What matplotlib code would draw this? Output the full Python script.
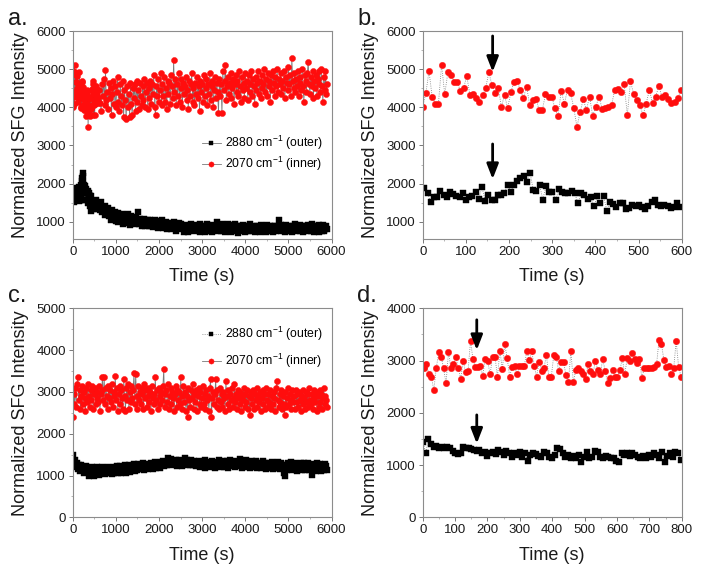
import numpy as np
import matplotlib
matplotlib.use("Agg")
import matplotlib.pyplot as plt
from matplotlib.ticker import AutoMinorLocator

plt.rcParams['font.family'] = ['Liberation Sans', 'DejaVu Sans']
plt.rcParams['mathtext.fontset'] = 'custom'
plt.rcParams['mathtext.rm'] = 'Liberation Sans'
plt.rcParams['mathtext.it'] = 'Liberation Sans:italic'
plt.rcParams['mathtext.bf'] = 'Liberation Sans:bold'

# ---------------- data ----------------
legend_labels = ['2880 cm$^{-1}$ (outer)', '2070 cm$^{-1}$ (inner)']
panel_letters = ['a.', 'b.', 'c.', 'd.']

# panel b (first 600 s of experiment a)
b_red = [4020, 4370, 4950, 4280, 4100, 4100, 5110, 4340, 4920, 4850, 4655, 4655, 4430, 4500,
         4830, 4320, 4340, 4250, 4150, 4320, 4500, 4920, 4585, 4370, 4500, 4020, 4320, 3975,
         4400, 4655, 4690, 4460, 4250, 4540, 4060, 4200, 4220, 3930, 3930, 4340, 4280,
         4280, 3975, 3780, 4430, 4100, 4455, 4370, 3975, 3490, 3870, 4210, 3930, 4280, 3780,
         4020, 4280, 3955, 3975, 4020, 4060, 4455, 4480, 4400, 4600, 3800, 4680, 4350, 4200,
         4050, 3800, 4100, 4455, 4120, 4280, 4550, 4280, 4320, 4210, 4120, 4150, 4240, 4455]
b_black = [1880, 1745, 1530, 1660, 1660, 1820, 1700, 1660, 1790, 1720, 1680, 1660, 1760, 1570,
           1660, 1680, 1790, 1610, 1905, 1550, 1700, 1570, 1580, 1700, 1700, 1760, 1965, 1790,
           1965, 2080, 2140, 2200, 2040, 2290, 1840, 1820, 1965, 1580, 1940, 1790,
           1790, 1570, 1850, 1790, 1760, 1760, 1820, 1745, 1485, 1760, 1700, 1610, 1660, 1415,
           1680, 1485, 1680, 1290, 1530, 1470, 1400, 1505, 1505, 1330, 1355, 1440, 1415, 1440,
           1380, 1330, 1415, 1530, 1570, 1440, 1415, 1440, 1415, 1355, 1380, 1505, 1400]
b_time_range = [0, 598]
b_black_time_range = [4, 597]

# panel a, after 600 s (t = 620 ... 5900 s)
a_red_late = [
    4450, 4120, 3900, 4600, 4300, 4750, 4050, 4980, 4200, 4400,
    3950, 4650, 4250, 4500, 3800, 4350, 4700, 4100, 4550, 4000,
    4400, 4800, 4150, 3900, 4600, 4300, 4050, 4700, 3750, 4450,
    4200, 3700, 4550, 4000, 4350, 3750, 4650, 4100, 3800, 4500,
    4250, 4600, 3900, 4700, 4150, 4450, 3950, 4650, 4300, 4050,
    4550, 4200, 4750, 4000, 4400, 4650, 3950, 4500, 4250, 4700,
    4100, 4600, 4350, 4850, 4000, 3800, 4550, 4300, 4750, 4150,
    4450, 4900, 4050, 4600, 4300, 4800, 4150, 4500, 3950, 4700,
    4350, 4650, 4100, 4850, 4550, 4250, 5250, 4400, 4750, 4050,
    4600, 4300, 4900, 4150, 4500, 4750, 4000, 4650, 4350, 4550,
    4800, 4200, 4450, 3950, 4700, 4300, 4600, 4900, 4150, 4500,
    4050, 4650, 4350, 4800, 4250, 4550, 3900, 4700, 4400, 4600,
    4150, 4850, 4300, 4500, 4750, 4050, 4600, 4350, 4900, 4200,
    4550, 4700, 4000, 4450, 4800, 4250, 4650, 4400, 3850, 4750,
    4300, 4600, 3850, 4950, 4450, 4700, 5100, 4200, 4550, 4800,
    4350, 4650, 4900, 4250, 4500, 4750, 4100, 4600, 4850, 4400,
    4700, 4300, 4950, 4550, 4150, 4800, 4450, 4650, 4250, 4900,
    4500, 4700, 4200, 4850, 4400, 4600, 4950, 4300, 4750, 4550,
    4100, 4800, 4450, 4650, 4950, 4350, 4700, 4250, 4850, 4500,
    4600, 5000, 4400, 4750, 4300, 4900, 4550, 4700, 4150, 4850,
    4450, 4950, 4650, 4300, 4800, 4550, 5000, 4400, 4750, 4600,
    4900, 4350, 4700, 4500, 4950, 4250, 4800, 4650, 4450, 5050,
    4600, 4850, 4300, 5300, 4700, 4500, 4900, 4400, 4750, 4550,
    4950, 4300, 4800, 4650, 4450, 5000, 4550, 4150, 4850, 4700,
    4400, 4900, 5200, 4600, 4350, 4800, 4550, 4950, 4250, 4700,
    4500, 4850, 4300, 4750, 4600, 4950, 4400, 5000, 4550, 4150,
    4800, 4450, 4950, 4350, 4600]
a_black_late = [
    1450, 1300, 1520, 1250, 1400, 1350, 1180, 1420, 1280, 1200,
    1350, 1150, 1280, 1050, 1220, 1300, 1100, 1180, 1250, 1020,
    1150, 1220, 1000, 1100, 1180, 1050, 1200, 950, 1120, 1080,
    1150, 980, 1080, 1200, 1000, 1100, 920, 1150, 1050, 1000,
    1080, 950, 1120, 1000, 1050, 1250, 930, 1080, 1000, 900,
    1020, 950, 1080, 880, 1000, 940, 1050, 900, 980, 1060,
    900, 1000, 860, 960, 1050, 880, 940, 1000, 850, 950,
    1020, 880, 920, 1050, 850, 960, 900, 1000, 820, 940,
    870, 980, 900, 820, 950, 880, 1000, 850, 920, 760,
    900, 850, 960, 800, 880, 940, 830, 900, 740, 870,
    920, 800, 880, 740, 900, 850, 940, 780, 870, 830,
    760, 900, 850, 920, 780, 880, 740, 940, 810, 870,
    790, 900, 740, 880, 840, 950, 770, 870, 800, 900,
    740, 860, 920, 780, 880, 810, 1000, 760, 900, 840,
    870, 770, 930, 800, 880, 740, 900, 850, 780, 940,
    810, 880, 740, 910, 800, 870, 770, 930, 850, 780,
    880, 720, 900, 810, 860, 760, 920, 790, 870, 740,
    900, 820, 770, 880, 800, 930, 750, 860, 790, 890,
    730, 870, 810, 900, 770, 850, 740, 920, 800, 870,
    780, 890, 820, 740, 910, 810, 870, 760, 900, 850,
    800, 740, 880, 820, 900, 770, 860, 800, 1050, 870,
    760, 910, 820, 780, 880, 740, 920, 810, 860, 770,
    900, 800, 870, 740, 890, 820, 780, 930, 750, 860,
    810, 890, 760, 910, 800, 860, 740, 900, 820, 780,
    880, 750, 920, 810, 860, 770, 950, 800, 870, 740,
    900, 820, 780, 880, 740, 910, 810, 870, 770, 920,
    760, 860, 800, 900, 810]
a_late_time_range = [620, 5900]

# panel c (t = 0 ... 5900 s)
c_red = [
    2400, 2950, 2700, 3100, 2650, 3200, 3350, 2800, 3050, 2600,
    2900, 3150, 2700, 3000, 2850, 2550, 3100, 2750, 3200, 2900,
    2650, 3050, 2800, 3150, 2600, 2950, 3100, 2700, 2850, 3000,
    2750, 3150, 2550, 2950, 3050, 3350, 2800, 3350, 2700, 3100,
    2900, 2600, 3150, 2850, 3050, 2750, 3200, 2650, 3000, 2900,
    3380, 2800, 3100, 2550, 2950, 3150, 2700, 3050, 2850, 2600,
    3300, 2900, 2550, 3100, 2800, 3200, 2600, 3000, 2750, 3150,
    2850, 3050, 3450, 2700, 3420, 2900, 2600, 3150, 2800, 3000,
    2700, 3100, 2950, 2600, 3200, 2850, 3050, 2650, 2900, 3100,
    2750, 3000, 2550, 3150, 2850, 2950, 2700, 3350, 2800, 3050,
    2600, 3100, 2900, 2700, 3000, 2800, 3150, 3550, 2650, 2950,
    3050, 2750, 3200, 2600, 2900, 3100, 2700, 3000, 2850, 2550,
    2950, 3150, 2650, 3050, 2800, 3000, 2700, 3350, 2600, 2900,
    3150, 2750, 3000, 2550, 2900, 2400, 3100, 2800, 2650, 3050,
    2850, 3200, 2600, 2950, 2750, 3050, 2550, 2900, 3100, 2700,
    3000, 2650, 2850, 3150, 2700, 2950, 2600, 3050, 2800, 2900,
    2550, 3100, 3300, 2400, 2850, 3000, 2700, 2950, 3300, 2650,
    3050, 2800, 2600, 3100, 2750, 2950, 2650, 3000, 2850, 2550,
    3250, 2900, 2700, 3050, 2600, 2950, 2800, 3100, 2650, 2850,
    3200, 2750, 2950, 2600, 3050, 2850, 2700, 3000, 2550, 2900,
    2800, 3100, 2650, 2950, 2750, 3050, 2600, 2900, 2450, 3000,
    2850, 2700, 3050, 2600, 2950, 2800, 3100, 2650, 2900, 2750,
    3000, 2550, 2850, 3050, 2700, 2950, 2600, 3100, 2800, 2650,
    2950, 2750, 3050, 2600, 2900, 2700, 3000, 2850, 2550, 3100,
    3250, 2800, 2650, 2950, 2750, 3050, 2600, 2900, 2700, 2450,
    3000, 2650, 2850, 3100, 2700, 2950, 2600, 2800, 3050, 2750,
    2900, 2600, 3050, 2750, 2950, 2650, 3000, 2800, 2550, 2900,
    3050, 2700, 2850, 2600, 3000, 2750, 2950, 2650, 3100, 2800,
    2700, 2950, 2600, 3050, 2850, 2750, 3000, 2550, 2900, 2650,
    3050, 2750, 2950, 2600, 2850, 3100, 2700, 2900, 2800, 2650]
c_black = [
    1500, 1320, 1250, 1380, 1200, 1300, 1150, 1260, 1180, 1100,
    1250, 1120, 1200, 1050, 1180, 1100, 1220, 1080, 1150, 1000,
    1180, 1100, 1040, 1200, 1120, 1000, 1160, 1080, 1200, 1050,
    1130, 1020, 1180, 1100, 1060, 1200, 1080, 1150, 1030, 1170,
    1100, 1200, 1050, 1150, 1080, 1190, 1040, 1120, 1200, 1060,
    1160, 1090, 1220, 1050, 1180, 1120, 1230, 1070, 1150, 1200,
    1100, 1240, 1140, 1060, 1200, 1130, 1250, 1090, 1180, 1120,
    1220, 1150, 1270, 1100, 1200, 1240, 1130, 1280, 1170, 1210,
    1150, 1260, 1190, 1300, 1140, 1230, 1180, 1280, 1210, 1160,
    1250, 1190, 1300, 1220, 1160, 1280, 1230, 1320, 1180, 1260,
    1210, 1300, 1240, 1180, 1320, 1260, 1350, 1220, 1290, 1250,
    1330, 1260, 1420, 1300, 1360, 1240, 1400, 1310, 1270, 1350,
    1280, 1380, 1230, 1330, 1290, 1360, 1250, 1340, 1300, 1220,
    1350, 1290, 1420, 1310, 1380, 1260, 1340, 1300, 1250, 1370,
    1300, 1240, 1350, 1280, 1320, 1230, 1300, 1260, 1340, 1200,
    1280, 1320, 1220, 1300, 1250, 1360, 1190, 1290, 1240, 1330,
    1260, 1200, 1310, 1250, 1350, 1220, 1290, 1180, 1320, 1260,
    1300, 1230, 1370, 1250, 1200, 1320, 1270, 1340, 1210, 1290,
    1250, 1350, 1190, 1300, 1260, 1380, 1220, 1290, 1330, 1240,
    1310, 1200, 1350, 1260, 1290, 1230, 1400, 1250, 1300, 1180,
    1320, 1240, 1290, 1200, 1360, 1270, 1230, 1330, 1180, 1300,
    1250, 1340, 1210, 1280, 1230, 1350, 1190, 1300, 1260, 1220,
    1310, 1180, 1270, 1230, 1350, 1200, 1290, 1150, 1260, 1220,
    1300, 1180, 1250, 1210, 1330, 1150, 1270, 1220, 1300, 1170,
    1240, 1320, 1190, 1260, 1150, 1290, 1210, 1240, 1060, 1000,
    1180, 1250, 1130, 1290, 1200, 1160, 1320, 1220, 1140, 1260,
    1190, 1300, 1150, 1240, 1100, 1280, 1210, 1170, 1310, 1130,
    1250, 1180, 1290, 1120, 1230, 1160, 1300, 1200, 1140, 1260,
    1170, 1010, 1220, 1280, 1150, 1240, 1100, 1300, 1180, 1230,
    1140, 1270, 1100, 1210, 1250, 1130, 1280, 1160, 1220, 1120]
c_time_range = [0, 5900]

# panel d (0 ... 800 s)
d_red = [2852, 2928, 2737, 2691, 2436, 2852, 3158, 3074, 2852, 2565, 3158, 2852, 2928, 3074,
         2852, 2647, 2992, 2775, 2800, 3374, 3030, 2880, 2882, 2900, 2712, 3030, 2992, 2737,
         3074, 3074, 2691, 3183, 2840, 3311, 3040, 2691, 2882, 2900, 2737, 2900, 2900, 2900,
         3183, 3011, 3183, 2900, 2691, 2967, 2800,
         2852, 3106, 2691, 2691, 3100, 3074, 2800, 2967, 2967, 2720, 2583, 3183, 2583, 2815,
         2852, 2800, 2737, 2647, 2928, 2800, 2737, 2992, 2815, 2737, 3030, 2800, 2565, 2672,
         2815, 2691, 2691, 2815, 3040, 2737, 3040, 2992, 3139, 3030, 2950, 3030, 2672, 2852,
         2852, 2852, 2852, 2882, 2928, 3393, 3311, 3011, 2882, 2900, 2737, 2852, 3374, 2882, 2691]
d_black = [1448, 1225, 1500, 1397, 1352, 1372, 1333, 1352, 1320, 1352, 1320, 1276, 1225, 1206,
           1225, 1352, 1333, 1320, 1308, 1289, 1270, 1289, 1225, 1257, 1180, 1225, 1257, 1206,
           1289, 1257, 1193, 1270, 1225, 1161, 1225, 1193, 1257, 1161, 1225, 1078, 1193, 1225,
           1206, 1180, 1161, 1257, 1225, 1161, 1142, 1193, 1333, 1308, 1225, 1161, 1193, 1142,
           1180, 1129, 1193, 1065, 1161, 1257, 1129, 1161, 1270, 1257, 1161, 1142, 1180, 1161,
           1129, 1142, 1078, 1065, 1225, 1193, 1225, 1180, 1225, 1193, 1161, 1129, 1180, 1142,
           1193, 1161, 1225, 1193, 1142, 1257, 1065, 1180, 1225, 1161, 1257, 1225, 1097]
d_time_range = [4, 798]
d_black_time_range = [1, 797]

# arrow annotations: (time, tail, head)
b_arrows = [(162, 5870, 4930), (162, 3040, 2120)]
d_arrows = [(167, 3780, 3200), (167, 1960, 1410)]

# ---------------- figure ----------------
W, H = 701, 573
fig = plt.figure(figsize=(W / 100, H / 100), dpi=100)

def ax_at(left, top, right, bottom):
    return fig.add_axes([left / W, 1 - bottom / H, (right - left) / W, (bottom - top) / H])

ax_a = ax_at(72.7, 31, 331.5, 239)
ax_b = ax_at(422.7, 31, 681.7, 239)
ax_c = ax_at(72.7, 308.3, 331.5, 517.3)
ax_d = ax_at(422.7, 308.3, 681.7, 517.3)

RED = '#ff0d0d'
LINE = '#7a7a7a'

def series(ax, t, y, color, marker, ms, ls, label=None):
    ax.plot(t, y, linestyle=ls, color=LINE, lw=0.6, marker=marker, ms=ms,
            mfc=color, mec=color, mew=0.3, label=label)

# panel a
t_b_red = np.linspace(b_time_range[0], b_time_range[1], len(b_red))
t_b_black = np.linspace(b_black_time_range[0], b_black_time_range[1], len(b_black))
t_late = np.linspace(a_late_time_range[0], a_late_time_range[1], len(a_red_late))
t_late_k = np.linspace(a_late_time_range[0], a_late_time_range[1], len(a_black_late))
a_t_black = np.concatenate([t_b_black, t_late_k])
a_y_black = np.concatenate([b_black, a_black_late])
a_t_red = np.concatenate([t_b_red, t_late])
a_y_red = np.concatenate([b_red, a_red_late])
series(ax_a, a_t_black, a_y_black, 'black', 's', 4.0, '-', legend_labels[0])
series(ax_a, a_t_red, a_y_red, RED, 'o', 4.4, '-', legend_labels[1])

# panel b
series(ax_b, t_b_black, b_black, 'black', 's', 3.9, ':')
series(ax_b, t_b_red, b_red, RED, 'o', 4.6, ':')

# panel c
t_c = np.linspace(c_time_range[0], c_time_range[1], len(c_red))
t_c_k = np.linspace(c_time_range[0], c_time_range[1], len(c_black))
series(ax_c, t_c_k, c_black, 'black', 's', 4.0, ':', legend_labels[0])
series(ax_c, t_c, c_red, RED, 'o', 4.4, '-', legend_labels[1])

# panel d
t_d = np.linspace(d_time_range[0], d_time_range[1], len(d_red))
t_d_k = np.linspace(d_black_time_range[0], d_black_time_range[1], len(d_black))
series(ax_d, t_d_k, d_black, 'black', 's', 3.9, ':')
series(ax_d, t_d, d_red, RED, 'o', 4.6, ':')

for ax, arrows in ((ax_b, b_arrows), (ax_d, d_arrows)):
    for (tx, tail, head) in arrows:
        ax.annotate('', xy=(tx, head), xytext=(tx, tail),
                    arrowprops=dict(arrowstyle='-|>,head_width=0.35,head_length=0.9',
                                    color='black', lw=2.0, shrinkA=0, shrinkB=0,
                                    mutation_scale=10))

# axes styling
settings = [
    (ax_a, (0, 6000), (550, 6000), np.arange(0, 6001, 1000), np.arange(1000, 6001, 1000)),
    (ax_b, (0, 600), (550, 6000), np.arange(0, 601, 100), np.arange(1000, 6001, 1000)),
    (ax_c, (0, 6000), (0, 5000), np.arange(0, 6001, 1000), np.arange(0, 5001, 1000)),
    (ax_d, (0, 800), (0, 4000), np.arange(0, 801, 100), np.arange(0, 4001, 1000)),
]
for ax, xl, yl, xt, yt in settings:
    ax.set_xlim(*xl)
    ax.set_ylim(*yl)
    ax.set_xticks(xt)
    ax.set_yticks(yt)
    ax.xaxis.set_minor_locator(AutoMinorLocator(2))
    ax.yaxis.set_minor_locator(AutoMinorLocator(2))
    for s in ax.spines.values():
        s.set_color('#8c8c8c')
        s.set_linewidth(0.8)
    ax.tick_params(which='major', direction='out', length=3, width=0.7, color='#777777',
                   labelsize=9.5, labelcolor='#1a1a1a', pad=2)
    ax.tick_params(which='minor', direction='out', length=1.5, width=0.5, color='#999999')
    ax.set_ylabel('Normalized SFG Intensity', fontsize=13, color='#1a1a1a')
    ax.set_xlabel('Time (s)', fontsize=13, color='#1a1a1a')
    ax.yaxis.set_label_coords(-0.17, 0.5)
    ax.xaxis.set_label_coords(0.5, -0.14)

ax_a.legend(loc='upper left', bbox_to_anchor=(0.465, 0.545), frameon=False,
            fontsize=8.8, handlelength=1.6, handletextpad=0.3, labelspacing=0.2,
            borderpad=0.2, markerscale=0.85)
ax_c.legend(loc='upper left', bbox_to_anchor=(0.465, 0.96), frameon=False,
            fontsize=8.8, handlelength=1.6, handletextpad=0.3, labelspacing=0.7,
            borderpad=0.2, markerscale=0.85)

# panel letters
for txt, (x, y) in zip(panel_letters, [(8, 25), (357, 25), (8, 302), (357, 302)]):
    fig.text(x / W, 1 - y / H, txt, fontsize=17, color='#1a1a1a', va='baseline', ha='left')

fig.savefig('out.png', dpi=100)
